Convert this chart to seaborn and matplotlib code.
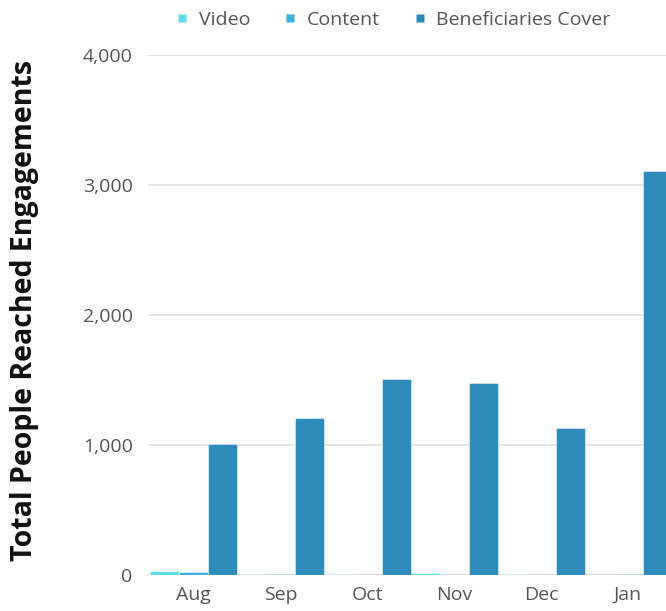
import matplotlib
matplotlib.use("Agg")
import matplotlib.pyplot as plt
from matplotlib.lines import Line2D
from matplotlib.ticker import FuncFormatter
import pandas as pd
import seaborn as sns

months = ["Aug", "Sep", "Oct", "Nov", "Dec", "Jan"]
series = ["Video", "Content", "Beneficiaries Cover"]
video = [30, 5, 10, 15, 5, 0]
content = [22, 8, 0, 0, 0, 10]
beneficiaries = [1005, 1205, 1505, 1480, 1130, 3110]
colors = ["#62dde6", "#3ab2d8", "#2d8bba"]

df = pd.DataFrame({
    "Month": months * 3,
    "Series": [s for s in series for _ in months],
    "Value": video + content + beneficiaries,
})

sns.set_theme(style="white")
plt.rcParams["font.family"] = ["Open Sans", "DejaVu Sans"]

W, H = 666, 611
fig = plt.figure(figsize=(W / 100, H / 100), dpi=100)
left_px, right_px, top_px, bottom_px = 148, 666, 55, 575
ax = fig.add_axes([left_px / W, 1 - bottom_px / H,
                   (right_px - left_px) / W, (bottom_px - top_px) / H])

sns.barplot(data=df, x="Month", y="Value", hue="Series", palette=colors,
            saturation=1, width=1.0, gap=0, dodge=True, ax=ax, legend=False,
            edgecolor=(1, 1, 1, 0.45), linewidth=0.8, errorbar=None)

ax.set_ylim(0, 4000)
ax.set_yticks([0, 1000, 2000, 3000, 4000])
ax.yaxis.set_major_formatter(FuncFormatter(lambda v, p: f"{int(v):,}"))
ax.set_xlim(-0.523, 5.437)

ax.grid(axis="y", color="#e2e2e2", linewidth=1.2)
ax.set_axisbelow(True)
for s in ax.spines.values():
    s.set_visible(False)
ax.axhline(0, color="#c4c4c4", linewidth=1.5, zorder=0.5)

ax.tick_params(axis="both", length=0, labelsize=14, labelcolor="#555555")
ax.tick_params(axis="y", pad=11)
ax.tick_params(axis="x", pad=8)
ax.set_xlabel("")
ax.set_ylabel("Total People Reached Engagements", fontsize=20.5,
              fontweight="bold", color="#111111")
ax.yaxis.label.set_va("center")
ax.yaxis.set_label_coords(25 / W, 1 - 310 / H, transform=fig.transFigure)

handles = [Line2D([], [], marker="s", linestyle="none", markersize=6,
                  markerfacecolor=c, markeredgecolor="none") for c in colors]
leg = fig.legend(handles, series, loc="center", ncol=3,
                 bbox_to_anchor=(394 / W, 1 - 20 / H), frameon=False,
                 fontsize=14, handlelength=0.5, handletextpad=0.6,
                 columnspacing=1.8)
for t in leg.get_texts():
    t.set_color("#555555")

fig.savefig("out.png", dpi=100)
